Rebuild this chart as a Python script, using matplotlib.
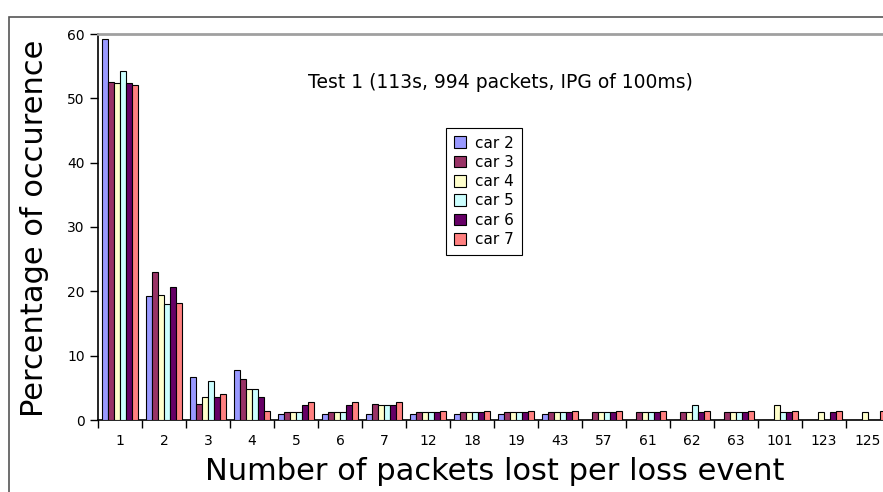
import numpy as np
import matplotlib
matplotlib.use("Agg")
import matplotlib.pyplot as plt
from matplotlib.patches import Rectangle

# packets lost per loss event (categories)
categories = ["1", "2", "3", "4", "5", "6", "7", "12", "18", "19", "43",
              "57", "61", "62", "63", "101", "123", "125"]
cars = ["car 2", "car 3", "car 4", "car 5", "car 6", "car 7"]
colors = ["#9999ff", "#993366", "#ffffcc", "#ccffff", "#660066", "#ff8080"]

# percentage of occurrence per car, one value per category
car2 = [59.2, 19.3, 6.7, 7.7, 1.0, 1.0, 1.0, 1.0, 1.0, 1.0, 1.0,
        0, 0, 0, 0, 0, 0, 0]
car3 = [52.6, 23.0, 2.5, 6.4, 1.3, 1.3, 2.5, 1.3, 1.3, 1.3, 1.3,
        1.3, 1.3, 1.3, 1.3, 0, 0, 0]
car4 = [52.4, 19.4, 3.6, 4.8, 1.3, 1.3, 2.4, 1.3, 1.3, 1.3, 1.3,
        1.3, 1.3, 1.3, 1.3, 2.4, 1.2, 1.2]
car5 = [54.2, 18.0, 6.0, 4.8, 1.3, 1.3, 2.4, 1.3, 1.3, 1.3, 1.3,
        1.3, 1.3, 2.3, 1.3, 1.2, 0, 0]
car6 = [52.4, 20.7, 3.6, 3.6, 2.4, 2.4, 2.4, 1.3, 1.3, 1.3, 1.3,
        1.3, 1.3, 1.3, 1.3, 1.2, 1.2, 0]
car7 = [52.1, 18.2, 4.1, 1.35, 2.8, 2.8, 2.8, 1.4, 1.4, 1.4, 1.4,
        1.4, 1.4, 1.4, 1.4, 1.4, 1.4, 1.4]
series = [car2, car3, car4, car5, car6, car7]

W, H = 883, 492
fig = plt.figure(figsize=(W / 100, H / 100), dpi=100)

# outer frame of the chart object (cropped on the right and bottom)
fig.patches.append(Rectangle((9 / W, -0.1), 1.2, 1.1 - 17 / H,
                             transform=fig.transFigure, fill=False,
                             edgecolor="#555555", lw=1.2))

ax = fig.add_axes([98 / W, 1 - 420 / H, 792 / W, 386 / H])

x = np.arange(len(categories))
bw = 0.136
for i, (vals, c, lab) in enumerate(zip(series, colors, cars)):
    ax.bar(x + (i - 2.5) * bw, vals, bw, color=c, edgecolor="black",
           linewidth=0.8, label=lab, zorder=3)

ax.set_xlim(-0.5, len(categories) - 0.5)
ax.set_ylim(0, 60)
ax.set_yticks(range(0, 61, 10))
ax.set_xticks(x)
ax.set_xticklabels(categories, fontsize=10)
ax.set_xticks(np.arange(len(categories) + 1) - 0.5, minor=True)
ax.tick_params(axis="x", which="major", length=0, pad=10)
ax.tick_params(axis="x", which="minor", length=6, width=1)
ax.tick_params(axis="y", labelsize=10, length=6, width=1)

for s in ["left", "bottom"]:
    ax.spines[s].set_linewidth(1.2)
ax.spines["top"].set_color("#a0a0a0")
ax.spines["top"].set_linewidth(2)
ax.spines["right"].set_visible(False)

ax.set_ylabel("Percentage of occurence", fontsize=22, va="center")
ax.yaxis.set_label_coords(-(98 - 35) / 792, (420 - 228) / 386)
ax.set_xlabel("Number of packets lost per loss event", fontsize=22, va="center")
ax.xaxis.set_label_coords((495 - 98) / 792, -(472 - 420) / 386)

fig.text(500 / W, 1 - 83 / H, "Test 1 (113s, 994 packets, IPG of 100ms)",
         fontsize=13.5, ha="center", va="center")

leg = ax.legend(loc="upper left", bbox_to_anchor=(446 / W, 1 - 128 / H),
                bbox_transform=fig.transFigure, fontsize=11, fancybox=False,
                framealpha=1, edgecolor="black", handlelength=0.8,
                handleheight=0.8, handletextpad=0.6, borderpad=0.5,
                labelspacing=0.28, borderaxespad=0)
leg.get_frame().set_linewidth(0.8)

fig.savefig("out.png", dpi=100)
